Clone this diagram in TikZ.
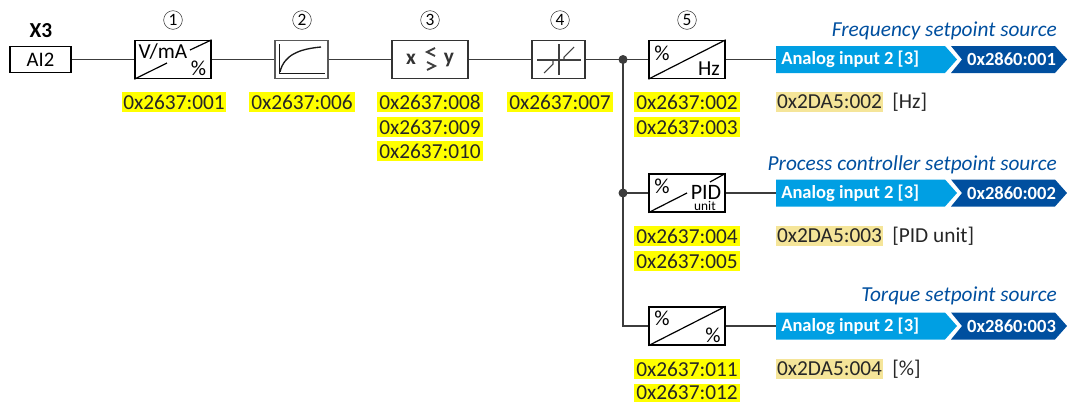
\documentclass[tikz,border=0pt]{standalone}
\usepackage{fontspec}
\setmainfont{Carlito}
\definecolor{linegray}{HTML}{3C3C3C}
\definecolor{hiyellow}{HTML}{FFFF00}
\definecolor{hitan}{HTML}{F5E599}
\definecolor{srcblue}{HTML}{009FE3}
\definecolor{paramblue}{HTML}{004F9F}
\tikzset{
  block/.style={draw=black, line width=1pt, minimum width=57pt, minimum height=28.5pt, inner sep=0pt},
  smallblock/.style={block, minimum width=39.75pt},
  wire/.style={linegray, line width=1.1pt},
  addr/.style={fill=hiyellow, font=\fontsize{16}{16}\selectfont, text=black!85, inner sep=0pt, minimum width=80pt, minimum height=15pt},
  addrtan/.style={addr, fill=hitan},
  unit/.style={font=\fontsize{16}{16}\selectfont, text=black!85, anchor=west, inner sep=0pt},
  stepno/.style={circle, draw=black!80, line width=0.4pt, minimum size=14pt, inner sep=0pt, font=\fontsize{13}{13}\selectfont},
  srctitle/.style={font=\fontsize{16}{16}\itshape\selectfont, text=paramblue, anchor=east, inner sep=0pt},
  srctext/.style={font=\fontsize{13.9}{13.9}\bfseries\selectfont, text=white, inner sep=0pt},
  cornertext/.style={font=\fontsize{16}{16}\selectfont, inner sep=0pt},
}
\begin{document}
\begin{tikzpicture}[x=0.75pt, y=-0.75pt]
    \useasboundingbox (0,0) rectangle (1067,401);
    % Input
    \node[font=\fontsize{16}{16}\bfseries\selectfont, inner sep=0pt] (x3) at (41,31) {X3};
    \node[draw=black, line width=1pt, minimum width=45.75pt, minimum height=19.5pt, inner sep=0pt, font=\fontsize{15.5}{15.5}\selectfont] (ai2) at (40.5,59.5) {AI2};
    % Blocks
    \node[block] (conv) at (173,59.5) {};
    \node[smallblock, draw=black!65, line width=1.2pt] (curve) at (301.5,59.5) {};
    \node[block, draw=black!80] (cmp) at (430,59.5) {};
    \node[smallblock, draw=black!80] (dead) at (558.5,59.5) {};
    \node[block] (hz) at (687,59.5) {};
    \node[block] (pid) at (687,193) {};
    \node[block] (pct) at (687,326) {};
    % Step numbers
    \node[stepno] (n1) at (173,20) {1};
    \node[stepno] (n2) at (302,20) {2};
    \node[stepno] (n3) at (430,20) {3};
    \node[stepno] (n4) at (560,20) {4};
    \node[stepno] (n5) at (687,20) {5};
    % Block 1
    \draw[line width=0.9pt] (conv.south west) -- (167,63);
    \draw[line width=0.9pt] (190,50) -- (conv.north east);
    \node[cornertext] (convv) at (163,52) {V/mA};
    \node[cornertext] (convp) at (198.5,68) {\%};
    % Block 2
    \draw[line width=1pt, black!90] (279.5,44) -- (279.5,73.5) -- (325,73.5);
    \draw[line width=1pt, black!90] (280,72) .. controls (284,55) and (299,49) .. (321,47);
    % Block 3
    \node[font=\fontsize{16}{16}\bfseries\selectfont, text=black!80, inner sep=0pt] (cmpx) at (411,59) {x};
    \node[font=\fontsize{16}{16}\bfseries\selectfont, text=black!80, inner sep=0pt] (cmpy) at (449,60) {y};
    \draw[line width=1.4pt, black!75] (435,48) -- (427,52) -- (435,56);
    \draw[line width=1.4pt, black!75] (427,62) -- (435,66) -- (427,70);
    % Block 4
    \draw[line width=0.8pt, black!75] (537,60) -- (581,60);
    \draw[line width=0.8pt, black!75] (559,44) -- (559,75);
    \draw[line width=0.8pt, black!75] (544,73) -- (553,64) -- (553,61);
    \draw[line width=0.8pt, black!75] (564,60) -- (564,57) -- (574,47);
    % Block 5
    \draw[line width=0.9pt] (hz.south west) -- (hz.north east);
    \node[cornertext] (hzp) at (662,53) {\%};
    \node[cornertext] (hzu) at (709,69) {Hz};
    % PID
    \draw[line width=0.9pt] (pid.south west) -- (687,193);
    \draw[line width=0.9pt] (710,182) -- (pid.north east);
    \node[cornertext] (pidp) at (662,186) {\%};
    \node[cornertext, font=\fontsize{16.5}{16.5}\selectfont] (pidu) at (706,192) {PID};
    \node[cornertext, font=\fontsize{10}{10}\selectfont] (pidun) at (705,205.5) {unit};
    % Percent
    \draw[line width=0.9pt] (pct.south west) -- (pct.north east);
    \node[cornertext] (pctp) at (662,318) {\%};
    \node[cornertext] (pctq) at (713,335) {\%};
    % Source banners
    \foreach \row/\ypos/\ytitle/\param/\title in {1/59.5/31/001/Frequency setpoint source, 2/193/164.5/002/Process controller setpoint source, 3/326/295.5/003/Torque setpoint source} {
        \fill[srcblue] (776,\ypos-13.5) -- (945,\ypos-13.5) -- (957,\ypos) -- (945,\ypos+13.5) -- (776,\ypos+13.5) -- cycle;
        \fill[paramblue] (951,\ypos-13.5) -- (1055,\ypos-13.5) -- (1067,\ypos) -- (1055,\ypos+13.5) -- (951,\ypos+13.5) -- (962,\ypos) -- cycle;
        \coordinate (in\row) at (776,\ypos);
        \node[srctext, anchor=west] (src\row) at (781,\ypos) {Analog input 2 [3]};
        \node[srctext] (par\row) at (1011.5,\ypos) {0x2860:\param};
        \node[srctitle] (title\row) at (1057,\ytitle) {\title};
    }
    % Junctions
    \fill[linegray] (623,59.5) circle (4.5) coordinate (j1);
    \fill[linegray] (623,193) circle (4.5) coordinate (j2);
    \coordinate (j3) at (623,326);
    % Wires
    \draw[wire] (ai2) -- (conv);
    \draw[wire] (conv) -- (curve);
    \draw[wire] (curve) -- (cmp);
    \draw[wire] (cmp) -- (dead);
    \draw[wire] (dead) -- (hz);
    \draw[wire] (j1) -- (j3) -- (pct);
    \draw[wire] (j2) -- (pid);
    \draw[wire] (hz) -- (in1);
    \draw[wire] (pid) -- (in2);
    \draw[wire] (pct) -- (in3);
    % Addresses
    \node[addr, minimum width=78pt] (a1) at (174,102) {0x2637:001};
    \node[addr] (a6) at (302,102) {0x2637:006};
    \node[addr] (a8) at (430,102) {0x2637:008};
    \node[addr] (a9) at (430,127) {0x2637:009};
    \node[addr] (a10) at (430,151) {0x2637:010};
    \node[addr] (a7) at (560,102) {0x2637:007};
    \node[addr] (a2) at (687,102) {0x2637:002};
    \node[addr] (a3) at (687,127) {0x2637:003};
    \node[addr] (a4) at (687,236) {0x2637:004};
    \node[addr] (a5) at (687,261) {0x2637:005};
    \node[addr] (a11) at (687,369) {0x2637:011};
    \node[addr, minimum height=13.5pt] (a12) at (687,392.5) {0x2637:012};
    % Display codes
    \node[addrtan] (d2) at (829.5,102) {0x2DA5:002};
    \node[addrtan] (d3) at (829.5,236) {0x2DA5:003};
    \node[addrtan] (d4) at (829.5,369) {0x2DA5:004};
    \node[unit] (u2) at (892,102) {[Hz]};
    \node[unit] (u3) at (892,236) {[PID unit]};
    \node[unit] (u4) at (892,369) {[\%]};
\end{tikzpicture}
\end{document}
